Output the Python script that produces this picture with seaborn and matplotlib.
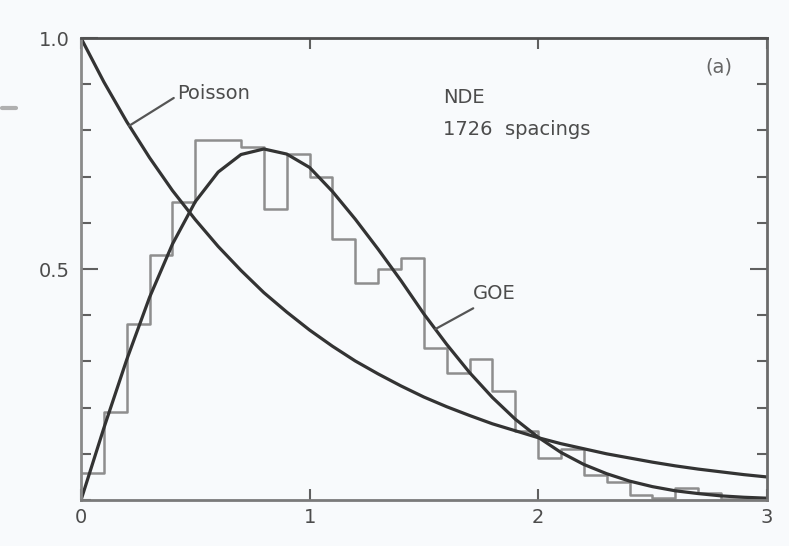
import matplotlib
matplotlib.use("Agg")
import matplotlib.pyplot as plt
from matplotlib.lines import Line2D
from matplotlib.ticker import MultipleLocator
import pandas as pd
import seaborn as sns

# Level spacing s (in units of the mean spacing) where the reference curves are sampled
spacing = [0.0, 0.1, 0.2, 0.3, 0.4, 0.5, 0.6, 0.7, 0.8, 0.9, 1.0,
           1.1, 1.2, 1.3, 1.4, 1.5, 1.6, 1.7, 1.8, 1.9, 2.0,
           2.1, 2.2, 2.3, 2.4, 2.5, 2.6, 2.7, 2.8, 2.9, 3.0]

# Poisson (uncorrelated levels) spacing distribution
poisson = [1.000, 0.905, 0.819, 0.741, 0.670, 0.607, 0.549, 0.497, 0.449, 0.407, 0.368,
           0.333, 0.301, 0.273, 0.247, 0.223, 0.202, 0.183, 0.165, 0.150, 0.135,
           0.122, 0.111, 0.100, 0.091, 0.082, 0.074, 0.067, 0.061, 0.055, 0.050]

# GOE (Wigner surmise) spacing distribution
goe = [0.000, 0.156, 0.304, 0.439, 0.554, 0.646, 0.710, 0.748, 0.760, 0.749, 0.720,
       0.668, 0.608, 0.543, 0.475, 0.403, 0.337, 0.276, 0.222, 0.175, 0.136,
       0.103, 0.077, 0.057, 0.041, 0.029, 0.020, 0.014, 0.009, 0.006, 0.004]

# Nuclear Data Ensemble histogram, 1726 spacings
bin_edges = [0.0, 0.1, 0.2, 0.3, 0.4, 0.5, 0.6, 0.7, 0.8, 0.9, 1.0,
             1.1, 1.2, 1.3, 1.4, 1.5, 1.6, 1.7, 1.8, 1.9, 2.0,
             2.1, 2.2, 2.3, 2.4, 2.5, 2.6, 2.7, 2.8, 2.9, 3.0]
nde_density = [0.058, 0.190, 0.380, 0.530, 0.645, 0.780, 0.780, 0.765, 0.630, 0.750,
               0.700, 0.565, 0.470, 0.500, 0.525, 0.330, 0.275, 0.305, 0.235, 0.150,
               0.090, 0.110, 0.055, 0.040, 0.010, 0.005, 0.025, 0.015, 0.002, 0.002]

x_ticks = [0, 1, 2, 3]
x_tick_labels = ["0", "1", "2", "3"]
y_ticks = [0.5, 1.0]
y_tick_labels = ["0.5", "1.0"]

sns.set_style("white")
plt.rcParams["font.family"] = ["DejaVu Sans"]

ink = "#333333"
hist_ink = "#8e8e8e"
text_ink = "#4c4c4c"
paper = "#f8fafc"
fs = 14

fig = plt.figure(figsize=(7.89, 5.46), dpi=100, facecolor=paper)
ax = fig.add_axes([0.1027, 0.0842, 0.869, 0.846])
ax.set_facecolor(paper)

centers = [(a + b) / 2 for a, b in zip(bin_edges[:-1], bin_edges[1:])]
hist_df = pd.DataFrame({"s": centers, "density": nde_density})
sns.histplot(data=hist_df, x="s", weights="density", bins=bin_edges,
             element="step", fill=False, color=hist_ink, linewidth=1.8, ax=ax)

curve_df = pd.DataFrame({"s": spacing, "Poisson": poisson, "GOE": goe})
sns.lineplot(data=curve_df, x="s", y="Poisson", color=ink, linewidth=2.3, ax=ax)
sns.lineplot(data=curve_df, x="s", y="GOE", color=ink, linewidth=2.3, ax=ax)

ax.set_xlim(0, 3)
ax.set_ylim(0, 1.0)
ax.set_xlabel("")
ax.set_ylabel("")

ax.set_xticks(x_ticks, labels=x_tick_labels)
ax.set_yticks(y_ticks, labels=y_tick_labels)
ax.yaxis.set_minor_locator(MultipleLocator(0.1))
ax.tick_params(axis="x", which="major", direction="in", top=True, bottom=True,
               length=8, width=1.5, color="#606060", labelsize=fs,
               labelcolor=text_ink, pad=6)
ax.tick_params(axis="y", which="major", direction="in", left=True, right=True,
               length=12, width=1.5, color="#606060", labelsize=fs,
               labelcolor=text_ink, pad=8)
ax.tick_params(axis="y", which="minor", direction="in", left=True, right=True,
               length=7, width=1.5, color="#606060")

for side, col in {"top": "#505050", "bottom": "#7a7a7a",
                  "left": "#8a8a8a", "right": "#6a6a6a"}.items():
    ax.spines[side].set_color(col)
    ax.spines[side].set_linewidth(2)

leader = dict(arrowstyle="-", color="#555555", lw=1.6, shrinkA=0, shrinkB=0)
ax.annotate("Poisson", xy=(0.21, 0.810), xytext=(0.42, 0.881),
            fontsize=fs, color=text_ink, va="center", ha="left",
            arrowprops=dict(leader, relpos=(0.0, 0.35)))
ax.annotate("GOE", xy=(1.55, 0.370), xytext=(1.716, 0.448),
            fontsize=fs, color=text_ink, va="center", ha="left",
            arrowprops=dict(leader, relpos=(0.0, -0.3)))

ax.text(1.584, 0.872, "NDE", fontsize=fs, color=text_ink, va="center", ha="left")
ax.text(1.584, 0.803, "1726  spacings", fontsize=fs, color=text_ink,
        va="center", ha="left")
ax.text(2.73, 0.937, "(a)", fontsize=fs, color="#666666", va="center", ha="left")

# short rule left of the frame
fig.add_artist(Line2D([0.002, 0.020], [0.803, 0.803], color="#b0b0b0",
                      lw=3, transform=fig.transFigure))

fig.savefig("out.png", dpi=100, facecolor=paper)
